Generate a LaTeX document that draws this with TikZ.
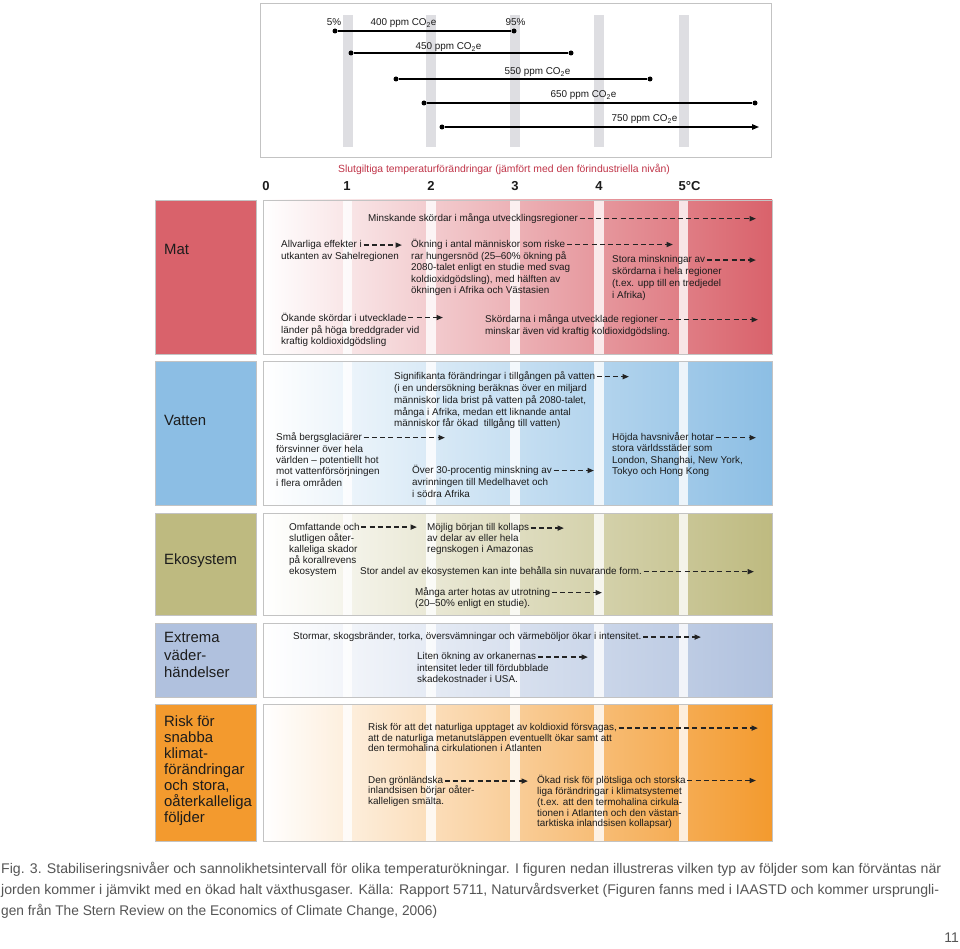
\documentclass[tikz,border=0pt]{standalone}
\usepackage{fontspec}
\setmainfont{Liberation Sans}
\usepackage{graphicx}
\usetikzlibrary{arrows.meta}
\definecolor{matc}{RGB}{217,98,107}
\definecolor{vattc}{RGB}{140,190,228}
\definecolor{ekoc}{RGB}{190,186,128}
\definecolor{extc}{RGB}{176,193,222}
\definecolor{riskc}{RGB}{243,154,46}
\definecolor{barc}{RGB}{222,222,226}
\definecolor{titlec}{RGB}{192,52,72}
\definecolor{textc}{RGB}{28,28,28}
\definecolor{arrc}{RGB}{35,35,35}
\definecolor{capc}{RGB}{85,85,85}
\definecolor{borderc}{RGB}{195,195,195}
\newcommand\tblock[6][txt]{%
  \foreach \lineitem [count=\li] in {#6} {%
    \node[#1] (#2-\li) at (#3,{#4+(\li-1)*#5}) {\lineitem};}}
\newcommand\darrow[3]{% name, end x, end y
  \coordinate (#1-e) at (#2,#3);
  \draw[darr] (#1-1.east) -- (#1-1.east -| #1-e);}
\begin{document}
\begin{tikzpicture}[x=1pt,y=-1pt,
  txt/.style={font=\fontsize{9.9}{11}\selectfont, inner sep=0pt, anchor=mid west, text=textc},
  lbl/.style={font=\fontsize{14.9}{16}\selectfont, inner sep=0pt, anchor=mid west, text=textc},
  toplbl/.style={font=\fontsize{9.9}{11}\selectfont, inner sep=0pt, anchor=mid, text=textc},
  axn/.style={font=\fontsize{13}{15}\bfseries\selectfont, inner sep=0pt, anchor=mid, text=textc},
  captxt/.style={font=\fontsize{14}{16}\selectfont, inner sep=0pt, anchor=mid west, text=capc},
  darr/.style={draw=arrc, line width=1.6pt, dash pattern=on 5pt off 3.2pt, -{Triangle[length=6.5pt,width=5pt]}, shorten <=1.5pt},
  rng/.style={draw=black, line width=1.2pt},
  dot/.style={circle, fill=black, inner sep=0pt, minimum size=5pt},
  bord/.style={draw=borderc, line width=0.8pt},
  stripe/.style={fill=white, opacity=0.8}]
\useasboundingbox (0,0) rectangle (960,949);
\fill[white] (0,0) rectangle (960,949);

% ---------- top box ----------
\draw[bord] (260,3) rectangle (771,157);
\foreach \s in {347.5,431,515,599,683.5}
  \fill[barc] (\s-5,15) rectangle (\s+5,147);
\node[dot] (r400a) at (335,31) {};
\node[dot] (r400b) at (514,31) {};
\draw[rng] (r400a) -- (r400b);
\node[dot] (r450a) at (351,53) {};
\node[dot] (r450b) at (571,53) {};
\draw[rng] (r450a) -- (r450b);
\node[dot] (r550a) at (396,79) {};
\node[dot] (r550b) at (650,79) {};
\draw[rng] (r550a) -- (r550b);
\node[dot] (r650a) at (424,103) {};
\node[dot] (r650b) at (755,103) {};
\draw[rng] (r650a) -- (r650b);
\node[dot] (r750a) at (442,127) {};
\coordinate (r750b) at (759,127);
\draw[rng, -{Triangle[length=7pt,width=5.5pt]}] (r750a) -- (r750b);
\node[toplbl] (p5) at (334,23) {5\%};
\node[toplbl] (p400) at (403.5,23) {400 ppm CO\textsubscript{2}e};
\node[toplbl] (p95) at (515.5,23) {95\%};
\node[toplbl] (p450) at (448.5,47) {450 ppm CO\textsubscript{2}e};
\node[toplbl] (p550) at (537.5,72) {550 ppm CO\textsubscript{2}e};
\node[toplbl] (p650) at (583.5,95) {650 ppm CO\textsubscript{2}e};
\node[toplbl] (p750) at (644.5,119) {750 ppm CO\textsubscript{2}e};

\node[font=\fontsize{10.4}{12}\selectfont, text=titlec, inner sep=0pt, anchor=mid] (title) at (504,170)
  {Slutgiltiga temperaturförändringar (jämfört med den förindustriella nivån)};
\node[axn] (a0) at (266,188) {0};
\node[axn] (a1) at (347,188) {1};
\node[axn] (a2) at (431,188) {2};
\node[axn] (a3) at (515,188) {3};
\node[axn] (a4) at (599,188) {4};
\node[axn, anchor=mid west] (a5) at (678.5,188) {5°C};

% ---------- rows ----------
\foreach \top/\bot/\col in {200/354/matc, 361/505/vattc, 513/615/ekoc, 623/697/extc, 704/841/riskc}{
  \fill[\col] (155,\top) rectangle (256,\bot);
  \draw[bord] (155,\top) rectangle (256,\bot);
  \shade[left color=white, right color=\col] (263,\top) rectangle (772,\bot);
  \foreach \s in {347.5,431,515,599,683.5}
    \fill[stripe] (\s-4.75,\top) rectangle (\s+4.75,\bot);
  \draw[bord] (263,\top) rectangle (772,\bot);
}

% labels
\node[lbl] (lmat) at (164,252) {Mat};
\node[lbl] (lvat) at (164,423) {Vatten};
\node[lbl] (leko) at (164,562) {Ekosystem};
\tblock[lbl]{lext}{164}{640}{17.5}{{Extrema},{väder-},{händelser}}
\tblock[lbl]{lrisk}{164}{724}{16}{{Risk för},{snabba},{klimat-},{förändringar},{och stora,},{oåterkalleliga},{följder}}

% Mat
\tblock{mA}{368}{219}{11.5}{{Minskande skördar i många utvecklingsregioner}}
\darrow{mA}{756}{219}
\tblock{mB}{281}{245}{11.5}{{Allvarliga effekter i},{utkanten av Sahelregionen}}
\darrow{mB}{402}{245}
\tblock{mC}{411}{245}{11.5}{{Ökning i antal människor som riske},{rar hungersnöd (25–60\% ökning på},{2080-talet enligt en studie med svag},{koldioxidgödsling), med hälften av},{ökningen i Afrika och Västasien}}
\darrow{mC}{673}{245}
\tblock{mD}{612}{260}{12}{{Stora minskningar av},{skördarna i hela regioner},{(t.ex. upp till en tredjedel},{i Afrika)}}
\darrow{mD}{756}{260}
\tblock{mE}{281}{319}{11.5}{{Ökande skördar i utvecklade},{länder på höga breddgrader vid},{kraftig koldioxidgödsling}}
\darrow{mE}{443}{319}
\tblock{mF}{485}{320}{11.5}{{Skördarna i många utvecklade regioner},{minskar även vid kraftig koldioxidgödsling.}}
\darrow{mF}{758}{320}

% Vatten
\tblock{vA}{394}{377}{11.8}{{Signifikanta förändringar i tillgången på vatten},{(i en undersökning beräknas över en miljard},{människor lida brist på vatten på 2080-talet,},{många i Afrika, medan ett liknande antal},{människor får ökad\ \ tillgång till vatten)}}
\darrow{vA}{629}{377}
\tblock{vB}{276}{438}{11.4}{{Små bergsglaciärer},{försvinner över hela},{världen – potentiellt hot},{mot vattenförsörjningen},{i flera områden}}
\darrow{vB}{445}{438}
\tblock{vC}{412}{471}{12}{{Över 30-procentig minskning av},{avrinningen till Medelhavet och},{i södra Afrika}}
\darrow{vC}{594}{471}
\tblock{vD}{612}{438}{11.2}{{Höjda havsnivåer hotar},{stora världsstäder som},{London, Shanghai, New York,},{Tokyo och Hong Kong}}
\darrow{vD}{756}{438}

% Ekosystem
\tblock{eA}{289}{528}{10.9}{{Omfattande och},{slutligen oåter-},{kalleliga skador},{på korallrevens},{ekosystem}}
\darrow{eA}{417}{528}
\tblock{eB}{427}{528}{10.9}{{Möjlig början till kollaps},{av delar av eller hela},{regnskogen i Amazonas}}
\darrow{eB}{564}{528}
\tblock{eC}{360}{572}{10}{{Stor andel av ekosystemen kan inte behålla sin nuvarande form.}}
\darrow{eC}{754}{572}
\tblock{eD}{415}{593}{11}{{Många arter hotas av utrotning},{(20–50\% enligt en studie).}}
\darrow{eD}{602}{593}

% Extrema
\tblock{xA}{293}{637}{10}{{Stormar, skogsbränder, torka, översvämningar och värmeböljor ökar i intensitet.}}
\darrow{xA}{701}{637}
\tblock{xB}{417}{657}{11.5}{{Liten ökning av orkanernas},{intensitet leder till fördubblade},{skadekostnader i USA.}}
\darrow{xB}{588}{657}

% Risk
\tblock{rA}{368}{728}{10.6}{{Risk för att det naturliga upptaget av koldioxid försvagas,},{att de naturliga metanutsläppen eventuellt ökar samt att},{den termohalina cirkulationen i Atlanten}}
\darrow{rA}{758}{728}
\tblock{rB}{368}{781}{10.3}{{Den grönländska},{inlandsisen börjar oåter-},{kalleligen smälta.}}
\darrow{rB}{528}{781}
\tblock{rC}{537}{781}{10.8}{{Ökad risk för plötsliga och storska},{liga förändringar i klimatsystemet},{(t.ex. att den termohalina cirkula-},{tionen i Atlanten och den västan-},{tarktiska inlandsisen kollapsar)}}
\darrow{rC}{756}{781}

% caption
\node[captxt] (c1) at (1,871) {\resizebox{940pt}{\height}{Fig. 3. Stabiliseringsnivåer och sannolikhetsintervall för olika temperaturökningar. I figuren nedan illustreras vilken typ av följder som kan förväntas när}};
\node[captxt] (c2) at (1,892) {\resizebox{938pt}{\height}{jorden kommer i jämvikt med en ökad halt växthusgaser. Källa: Rapport 5711, Naturvårdsverket (Figuren fanns med i IAASTD och kommer ursprungli-}};
\node[captxt] (c3) at (1,913) {\resizebox{436pt}{\height}{gen från The Stern Review on the Economics of Climate Change, 2006)}};
\node[captxt, anchor=mid east] (pg) at (959,940) {11};
\end{tikzpicture}
\end{document}
